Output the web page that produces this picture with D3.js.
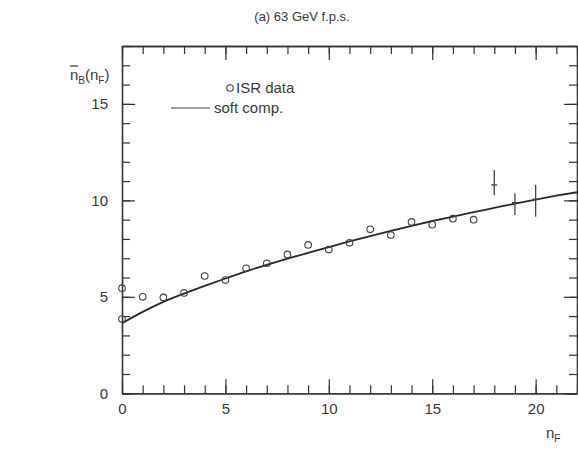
<!DOCTYPE html>
<html>
<head>
<meta charset="utf-8">
<script src="https://cdn.jsdelivr.net/npm/d3@7"></script>
<style>
  html, body { margin: 0; padding: 0; background: #fff; }
  svg { display: block; }
  text { font-family: "Liberation Sans", Arial, sans-serif; fill: #3a3a3a; }
</style>
</head>
<body>
<div id="chart"></div>
<script>
// ---- data ----
const titleText = "(a) 63 GeV f.p.s.";
const xTicksMajor = [0, 5, 10, 15, 20];
const yTicksMajor = [0, 5, 10, 15];
const xMinorTicks = d3.range(0, 23);
const yMinorTicks = d3.range(0, 19);

// ISR data (open circles)
const isrX = [0, 0, 1, 2, 3, 4, 5, 6, 7, 8, 9, 10, 11, 12, 13, 14, 15, 16, 17];
const isrY = [5.45, 3.85, 5.0, 4.97, 5.2, 6.08, 5.87, 6.48, 6.74, 7.2, 7.69, 7.45, 7.8, 8.5, 8.2, 8.88, 8.74, 9.05, 9.0];

// ISR data with error bars (high n_F)
const errX = [18, 19, 20];
const errY = [10.8, 9.88, 10.06];
const errLo = [10.27, 9.24, 9.15];
const errHi = [11.57, 10.37, 10.8];

// soft component curve
const softX = [0, 1, 2, 3, 4, 5, 6, 7, 8, 9, 10, 11, 12, 13, 14, 15, 16, 17, 18, 19, 20, 21, 22];
const softY = [3.63, 4.22, 4.74, 5.17, 5.57, 5.95, 6.32, 6.66, 6.98, 7.28, 7.58, 7.87, 8.15, 8.42, 8.68, 8.93, 9.16, 9.39, 9.61, 9.83, 10.04, 10.24, 10.42];

// ---- drawing ----
const W = 578, H = 450;
const svg = d3.select("#chart").append("svg").attr("width", W).attr("height", H);

const x = d3.scaleLinear().domain([0, 22]).range([122, 577]);
const y = d3.scaleLinear().domain([0, 18]).range([393.3, 46]);

const ink = "#333";
const frame = svg.append("g");

function styleAxis(g) {
  g.selectAll("path.domain").attr("stroke", ink).attr("stroke-width", 1.3);
  g.selectAll(".tick line").attr("stroke", ink).attr("stroke-width", 1.2);
  g.selectAll(".tick text").attr("fill", "#333")
    .style("font-family", "'Liberation Sans', Arial, sans-serif").style("font-size", "15px");
}

// bottom axis: minor and major ticks pointing inward
frame.append("g").attr("transform", `translate(0,${y(0)})`)
  .call(d3.axisBottom(x).tickValues(xMinorTicks).tickSize(-8).tickFormat("").tickSizeOuter(0))
  .call(styleAxis);
frame.append("g").attr("transform", `translate(0,${y(0)})`)
  .call(d3.axisBottom(x).tickValues(xTicksMajor).tickSize(-14).tickPadding(10).tickSizeOuter(0).tickFormat(d3.format("d")))
  .call(styleAxis);

// top axis
frame.append("g").attr("transform", `translate(0,${y(18)})`)
  .call(d3.axisTop(x).tickValues(xMinorTicks).tickSize(-8).tickFormat("").tickSizeOuter(0))
  .call(styleAxis);
frame.append("g").attr("transform", `translate(0,${y(18)})`)
  .call(d3.axisTop(x).tickValues(xTicksMajor).tickSize(-14).tickFormat("").tickSizeOuter(0))
  .call(styleAxis);

// left axis
frame.append("g").attr("transform", `translate(${x(0)},0)`)
  .call(d3.axisLeft(y).tickValues(yMinorTicks).tickSize(-8).tickFormat("").tickSizeOuter(0))
  .call(styleAxis);
frame.append("g").attr("transform", `translate(${x(0)},0)`)
  .call(d3.axisLeft(y).tickValues(yTicksMajor).tickSize(-13).tickPadding(14).tickSizeOuter(0).tickFormat(d3.format("d")))
  .call(styleAxis);

// right axis
frame.append("g").attr("transform", `translate(${x(22)},0)`)
  .call(d3.axisRight(y).tickValues(yMinorTicks).tickSize(-8).tickFormat("").tickSizeOuter(0))
  .call(styleAxis);
frame.append("g").attr("transform", `translate(${x(22)},0)`)
  .call(d3.axisRight(y).tickValues(yTicksMajor).tickSize(-13).tickFormat("").tickSizeOuter(0))
  .call(styleAxis);

// soft component curve
const line = d3.line().x(d => x(d[0])).y(d => y(d[1])).curve(d3.curveMonotoneX);
svg.append("path")
  .datum(softX.map((v, i) => [v, softY[i]]))
  .attr("d", line)
  .attr("fill", "none").attr("stroke", "#2a2a2a").attr("stroke-width", 1.8);

// ISR open circles
svg.append("g").selectAll("circle")
  .data(isrX.map((v, i) => [v, isrY[i]]))
  .join("circle")
  .attr("cx", d => x(d[0])).attr("cy", d => y(d[1])).attr("r", 3.3)
  .attr("fill", "none").attr("stroke", "#444").attr("stroke-width", 1.1);

// error bars
const eg = svg.append("g");
errX.forEach((v, i) => {
  eg.append("line")
    .attr("x1", x(v)).attr("x2", x(v))
    .attr("y1", y(errLo[i])).attr("y2", y(errHi[i]))
    .attr("stroke", "#444").attr("stroke-width", 1.3);
  eg.append("line")
    .attr("x1", x(v) - 3).attr("x2", x(v) + 3)
    .attr("y1", y(errY[i])).attr("y2", y(errY[i]))
    .attr("stroke", "#444").attr("stroke-width", 1.3);
});

// title
svg.append("text").attr("x", 302).attr("y", 21).attr("text-anchor", "middle")
  .style("font-size", "13px").attr("fill", "#555").text(titleText);

// y-axis label  n̄_B(n_F)
const yl = svg.append("text").attr("x", 70).attr("y", 80).style("font-size", "15px").attr("fill", "#333");
yl.append("tspan").text("n");
yl.append("tspan").attr("dy", 4).style("font-size", "10px").text("B");
yl.append("tspan").attr("dy", -4).text("(n");
yl.append("tspan").attr("dy", 4).style("font-size", "10px").text("F");
yl.append("tspan").attr("dy", -4).text(")");
svg.append("line").attr("x1", 70).attr("x2", 78).attr("y1", 66).attr("y2", 66)
  .attr("stroke", "#333").attr("stroke-width", 1.2);

// x-axis label n_F
const xl = svg.append("text").attr("x", 546).attr("y", 438).style("font-size", "15px").attr("fill", "#333");
xl.append("tspan").text("n");
xl.append("tspan").attr("dy", 4).style("font-size", "10px").text("F");

// legend
const lg = svg.append("g");
lg.append("circle").attr("cx", 230).attr("cy", 88).attr("r", 3.3)
  .attr("fill", "none").attr("stroke", "#444").attr("stroke-width", 1.1);
lg.append("text").attr("x", 236).attr("y", 93).style("font-size", "15px").attr("fill", "#333").text("ISR data");
lg.append("line").attr("x1", 171).attr("x2", 210).attr("y1", 108).attr("y2", 108)
  .attr("stroke", "#444").attr("stroke-width", 1.2);
lg.append("text").attr("x", 214).attr("y", 113).style("font-size", "15px").attr("fill", "#333").text("soft comp.");
</script>
</body>
</html>
